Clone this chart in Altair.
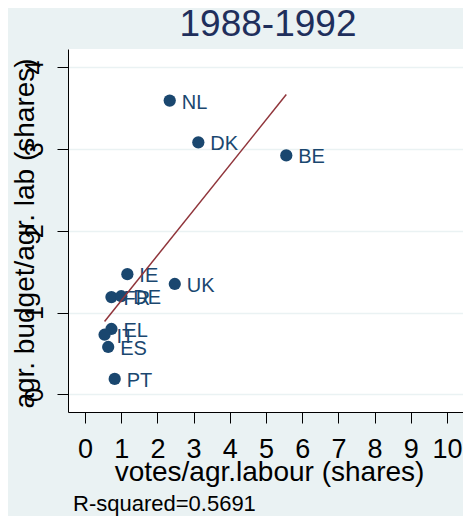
import altair as alt
import pandas as pd

# ---- data ----
countries = ["NL", "DK", "BE", "IE", "UK", "FR", "DE", "EL", "IT", "ES", "PT"]
votes_share = [2.34, 3.13, 5.56, 1.17, 2.48, 0.73, 1.00, 0.73, 0.54, 0.64, 0.82]
budget_share = [3.59, 3.08, 2.92, 1.47, 1.35, 1.19, 1.20, 0.80, 0.73, 0.58, 0.19]
x_ticks = [0, 1, 2, 3, 4, 5, 6, 7, 8, 9, 10]
y_ticks = [0, 1, 2, 3, 4]
chart_title = ["1988-1992"]
x_title = "votes/agr.labour (shares)"
y_title = "agr. budget/agr. lab (shares)"
note_text = ["R-squared=0.5691"]

df = pd.DataFrame({"country": countries, "votes": votes_share, "budget": budget_share})
note_df = pd.DataFrame({"t": note_text})
title_df = pd.DataFrame({"t": chart_title})

FONT = "Liberation Sans"
NAVY = "#1a476f"
FITC = "#90353b"
BG = "#eaf2f3"

x_enc = alt.X(
    "votes:Q",
    scale=alt.Scale(domain=[-0.47, 10.442], nice=False, zero=False),
    axis=alt.Axis(
        values=x_ticks, tickCount=30, format="d", title=x_title, grid=False, tickSize=11,
        tickColor="black", domainColor="black", labelFontSize=27, labelColor="black",
        labelFont=FONT, labelPadding=13, labelFlush=False, labelOverlap=False,
        labelBound=False,
        titleFontSize=28, titleFontWeight="normal", titleColor="black", titleFont=FONT,
        titleBaseline="alphabetic", titleY=68, titleX=201, titleAlign="center",
    ),
)
y_enc = alt.Y(
    "budget:Q",
    scale=alt.Scale(domain=[-0.214, 4.22], nice=False, zero=False),
    axis=alt.Axis(
        values=y_ticks, tickCount=30, format="d", title=y_title, grid=True, gridColor=BG,
        gridWidth=1.6, tickSize=11, tickColor="black", domainColor="black",
        labelAngle=270, labelAlign="center", labelBaseline="alphabetic",
        labelPadding=15, labelFontSize=25, labelColor="black", labelFont=FONT,
        labelFlush=False, labelOverlap=False,
        titleAngle=270, titleX=-35, titleY=184, titleBaseline="alphabetic",
        titleAlign="center", titleFontSize=28, titleFontWeight="normal",
        titleColor="black", titleFont=FONT,
    ),
)

base = alt.Chart(df)
points = base.mark_circle(size=150, color=NAVY, opacity=1).encode(x=x_enc, y=y_enc)
labels = base.mark_text(
    align="left", baseline="middle", dx=12, dy=2, fontSize=20, color=NAVY, font=FONT
).encode(x="votes:Q", y="budget:Q", text="country:N")
fit = base.transform_regression("votes", "budget").mark_line(
    color=FITC, strokeWidth=1.5
).encode(x="votes:Q", y="budget:Q")
note = alt.Chart(note_df).mark_text(
    align="left", baseline="alphabetic", fontSize=22, font=FONT, color="black"
).encode(x=alt.value(5), y=alt.value(462), text="t:N")
title = alt.Chart(title_df).mark_text(
    align="center", baseline="alphabetic", fontSize=37, font=FONT, color="#1f2f5c"
).encode(x=alt.value(200), y=alt.value(-13), text="t:N")

chart = (
    alt.layer(points, labels, fit, note, title)
    .properties(
        width=395,
        height=363,
        autosize=alt.AutoSizeParams(type="none"),
        padding={"left": 60, "top": 41, "right": 0, "bottom": 104},
        background=BG,
    )
    .configure_view(fill="white", strokeWidth=0)
)

chart.save("out.html", embed_options={"renderer": "svg", "actions": False})
